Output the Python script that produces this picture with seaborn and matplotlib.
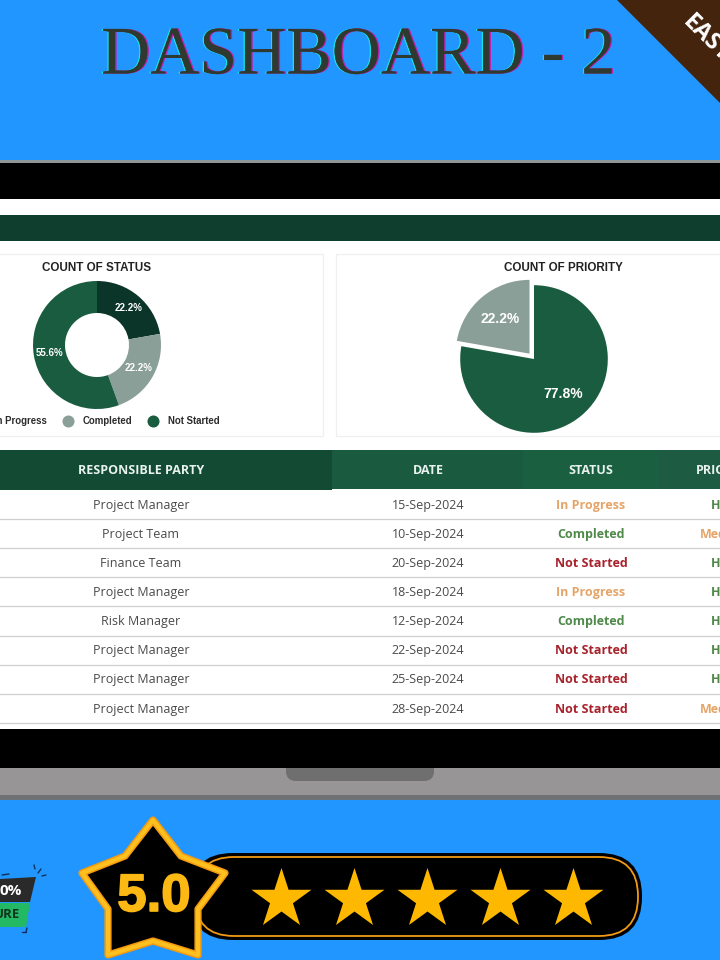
import matplotlib
matplotlib.use('Agg')
import matplotlib.pyplot as plt
import matplotlib.patheffects as pe
from matplotlib.patches import Polygon, Rectangle, FancyBboxPatch
import numpy as np
import seaborn as sns

# Data
status_labels = ['In Progress', 'Completed', 'Not Started']
status_counts = [2, 2, 5]
priority_labels = ['Medium', 'High']
priority_counts = [2, 7]
table_columns = ['RESPONSIBLE PARTY', 'DATE', 'STATUS', 'PRIORITY']
table_party = ['Project Manager', 'Project Team', 'Finance Team', 'Project Manager',
               'Risk Manager', 'Project Manager', 'Project Manager', 'Project Manager']
table_date = ['15-Sep-2024', '10-Sep-2024', '20-Sep-2024', '18-Sep-2024',
              '12-Sep-2024', '22-Sep-2024', '25-Sep-2024', '28-Sep-2024']
table_status = ['In Progress', 'Completed', 'Not Started', 'In Progress',
                'Completed', 'Not Started', 'Not Started', 'Not Started']
table_priority = ['High', 'Medium', 'High', 'High', 'High', 'High', 'High', 'Medium']
rating = 5

sns.set_theme(style='white')
plt.rcParams['font.family'] = ['Open Sans', 'DejaVu Sans']

BLUE = '#2196ff'
pie_colors = sns.color_palette(['#0c352a', '#8a9f97', '#1a5c40'])
status_colors = {'In Progress': '#e5a468', 'Completed': '#4f8a4a', 'Not Started': '#a8222c'}
priority_colors = {'High': '#4f8a4a', 'Medium': '#e5a468'}

fig = plt.figure(figsize=(7.2, 9.6), dpi=100, facecolor=BLUE)
ax = fig.add_axes([0, 0, 1, 1])
ax.set_xlim(0, 720)
ax.set_ylim(960, 0)
ax.axis('off')


def band(x0, y0, x1, y1, color, z=1):
    ax.add_patch(Rectangle((x0, y0), x1 - x0, y1 - y0, facecolor=color, edgecolor='none', zorder=z))


def px_axes(cx, cy, r):
    a = fig.add_axes([(cx - r) / 720, 1 - (cy + r) / 960, 2 * r / 720, 2 * r / 960])
    a.set_xlim(-1, 1)
    a.set_ylim(-1, 1)
    a.patch.set_alpha(0)
    return a


# title and ribbon
ax.text(358, 57, 'DASHBOARD - 2', ha='center', va='center', fontsize=49, color='#2e3a30',
        family='Liberation Serif',
        path_effects=[pe.withSimplePatchShadow(offset=(-1, 0), shadow_rgbFace='#19e0e8', alpha=1),
                      pe.withSimplePatchShadow(offset=(1, 0), shadow_rgbFace='#c020b0', alpha=1)])
ax.add_patch(Polygon([(617, 0), (720, 0), (720, 103)], facecolor='#45240e', edgecolor='none', zorder=2))
ax.text(686, 19, 'EASY', rotation=-45, rotation_mode='anchor', ha='left', va='center',
        fontsize=17, fontweight='bold', color='white', zorder=3)

# laptop screen
band(0, 160, 720, 163, '#8f9698')
band(0, 163, 720, 199, 'black')
band(0, 199, 720, 729, 'white')
band(0, 215, 720, 241, '#0f3d2e')
band(0, 768, 720, 795, '#979595')
band(0, 795, 720, 800, '#6f7275')
ax.add_patch(FancyBboxPatch((286, 750), 148, 31, boxstyle='round,pad=0,rounding_size=10',
                            facecolor='#706f70', edgecolor='none', zorder=1.5))
band(0, 729, 720, 768, 'black', 1.6)

# cards
for x0, x1 in [(-5, 323), (336, 730)]:
    ax.add_patch(Rectangle((x0, 254), x1 - x0, 182, facecolor='white', edgecolor='#f0f0f0', lw=1, zorder=2))
ax.text(97, 268, 'COUNT OF STATUS', ha='center', va='center', fontsize=8.4, fontweight='bold',
        color='#222222', family='Liberation Sans', zorder=3)
ax.text(563, 268, 'COUNT OF PRIORITY', ha='center', va='center', fontsize=8.4, fontweight='bold',
        color='#222222', family='Liberation Sans', zorder=3)

# donut
ax_d = px_axes(97, 345, 64)
_, _, d_txt = ax_d.pie(status_counts, colors=pie_colors, startangle=90, counterclock=False, radius=1,
                       autopct='%1.1f%%', pctdistance=0.75, wedgeprops={'width': 0.5, 'linewidth': 0},
                       textprops={'color': 'white', 'fontsize': 7, 'fontweight': 'bold',
                                  'family': 'Liberation Sans'})
ax_d.set_xlim(-1, 1)
ax_d.set_ylim(-1, 1)
d_txt[0].set_position((0.49, 0.58))
d_txt[1].set_position((0.65, -0.36))

# legend under the donut
for label, col, mx, tx in zip(status_labels, pie_colors, [-40, 68, 153], [47, 132, 220]):
    ax.scatter([mx], [421], s=75, color=col, linewidths=0, zorder=3)
    ax.text(tx, 421.5, label, ha='right', va='center', fontsize=6.9, fontweight='bold',
            color='#2b2b2b', family='Liberation Sans', zorder=3)

# pie
ax_p = px_axes(534, 359, 82)
_, _, p_txt = ax_p.pie(priority_counts, colors=[pie_colors[1], pie_colors[2]], startangle=90,
                       explode=[0.085, 0], radius=0.9, autopct='%1.1f%%', pctdistance=0.62,
                       wedgeprops={'linewidth': 0},
                       textprops={'color': 'white', 'fontsize': 10, 'fontweight': 'bold',
                                  'family': 'Liberation Sans'})
ax_p.set_xlim(-1, 1)
ax_p.set_ylim(-1, 1)

# table
header_x = [141, 428, 591, 725]
seg_edges = [-1, 332, 523, 658, 721]
seg_colors = ['#134a34', '#1a5a3f', '#1a5f40', '#1d5c42']
for i, c in enumerate(seg_colors):
    band(seg_edges[i], 450, seg_edges[i + 1], 489 + (i == 0), c, 2)
for name, x in zip(table_columns, header_x):
    ax.text(x, 470, name, ha='center', va='center', fontsize=9, fontweight='bold',
            color='#e8f2ee', zorder=3)

row_h = 29.15
for i in range(len(table_party)):
    y = 505 + i * row_h
    ax.plot([0, 720], [y + 14, y + 14], color='#cfcfcf', lw=0.9, zorder=2)
    ax.text(141, y, table_party[i], ha='center', va='center', fontsize=9, color='#4a4a4a', zorder=3)
    ax.text(428, y, table_date[i], ha='center', va='center', fontsize=9, color='#4a4a4a', zorder=3)
    ax.text(591, y, table_status[i], ha='center', va='center', fontsize=9, fontweight='bold',
            color=status_colors[table_status[i]], zorder=3)
    ax.text(725, y, table_priority[i], ha='center', va='center', fontsize=9, fontweight='bold',
            color=priority_colors[table_priority[i]], zorder=3)

# rating pill
ax.add_patch(FancyBboxPatch((190, 853), 452, 87, boxstyle='round,pad=0,rounding_size=43',
                            facecolor='black', edgecolor='none', zorder=2))
ax.add_patch(FancyBboxPatch((195, 857), 443, 79, boxstyle='round,pad=0,rounding_size=39',
                            facecolor='black', edgecolor='#f29a14', lw=1.3, zorder=2.1))
star_pts = np.array([(153, 820), (181, 856), (225, 873), (198, 909), (198, 955), (153, 941),
                     (108, 955), (108, 909), (82, 873), (125, 856)])
ax.add_patch(Polygon(star_pts, closed=True, facecolor='black', edgecolor='#f39a10', lw=5.2,
                     joinstyle='round', zorder=3))
ax.add_patch(Polygon(star_pts, closed=True, facecolor='none', edgecolor='#fdc01e', lw=3,
                     joinstyle='round', zorder=3.1))
ax.text(154, 897, '5.0', ha='center', va='center', fontsize=38, fontweight='bold', color='#fdb913',
        family='Liberation Sans', zorder=4,
        path_effects=[pe.withStroke(linewidth=1.2, foreground='#fdb913')])
star_x = 281 + np.arange(rating) * 73
ax.scatter(star_x, [899] * rating, marker='*', s=2060, color='#ffb800', linewidths=0, zorder=4)

# badge
ax.add_patch(Polygon([(0, 879), (36, 877), (30, 902), (0, 902)], facecolor='#2a2a2a', edgecolor='none', zorder=2))
ax.add_patch(Polygon([(0, 903), (30, 903), (26, 927), (0, 927)], facecolor='#22b864', edgecolor='none', zorder=2))
ax.text(22, 891, '0%', ha='right', va='center', fontsize=11, fontweight='bold', color='white', zorder=3)
ax.text(20, 915, 'URE', ha='right', va='center', fontsize=9.5, fontweight='bold', color='#10331f', zorder=3)
for seg in [[(34, 865), (35, 869)], [(38, 873), (41, 869)], [(42, 876), (46, 875)],
            [(22, 932), (26, 932)], [(26, 932), (27, 928)], [(2, 875), (9, 874)]]:
    ax.plot(*zip(*seg), color='#12305a', lw=1, zorder=2)

fig.savefig('out.png', dpi=100, facecolor=BLUE)
